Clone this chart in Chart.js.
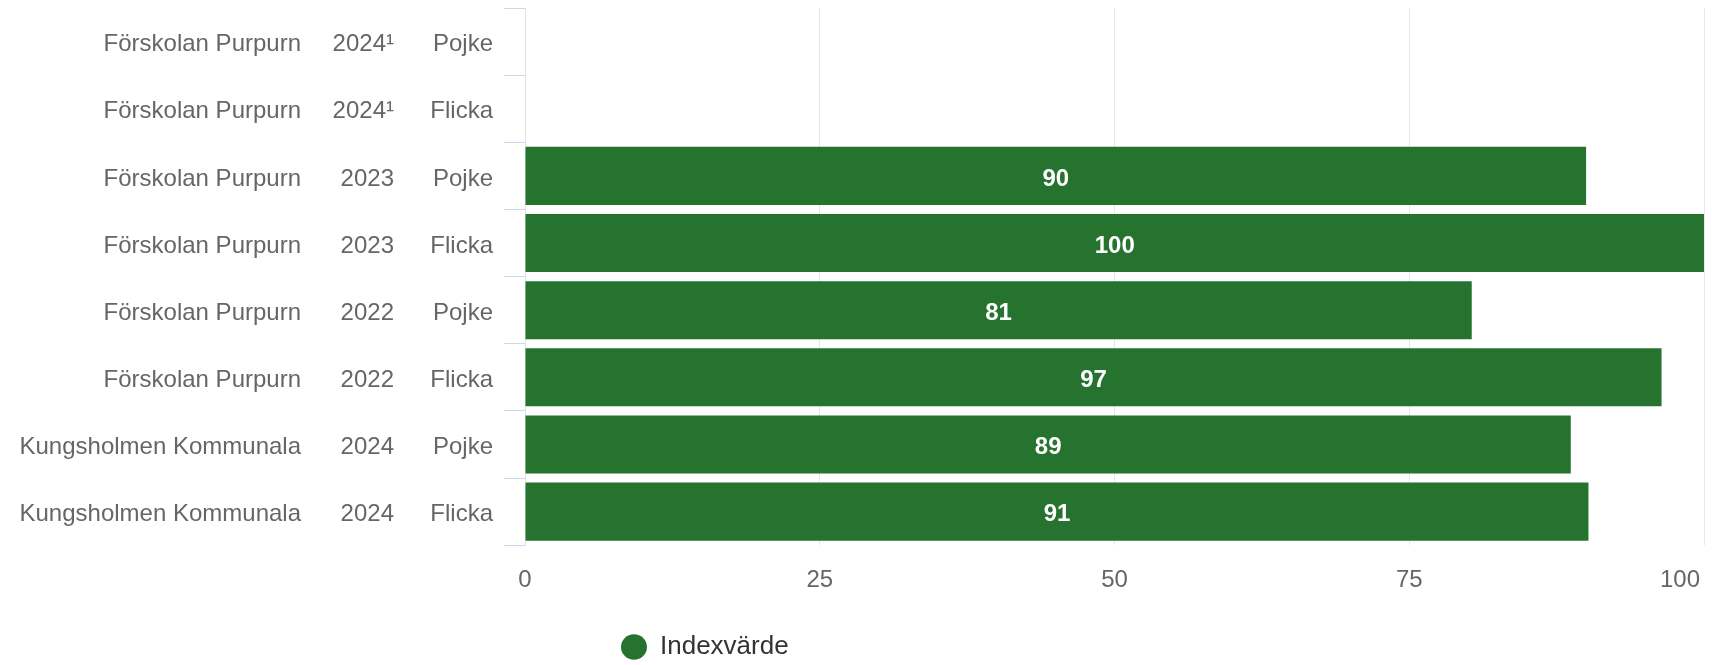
<!DOCTYPE html>
<html>
<head>
<meta charset="utf-8">
<script src="https://cdn.jsdelivr.net/npm/chart.js@4/dist/chart.umd.min.js"></script>
<style>
  html, body { margin: 0; padding: 0; background: #ffffff; }
  #wrap { position: relative; width: 1712px; height: 665px; }
</style>
</head>
<body>
<div id="wrap"><canvas id="c"></canvas></div>
<script>
// ---- data ----
const schoolLabels = ['Förskolan Purpurn', 'Förskolan Purpurn', 'Förskolan Purpurn', 'Förskolan Purpurn',
                      'Förskolan Purpurn', 'Förskolan Purpurn', 'Kungsholmen Kommunala', 'Kungsholmen Kommunala'];
const yearLabels = ['2024¹', '2024¹', '2023', '2023', '2022', '2022', '2024', '2024'];
const genderLabels = ['Pojke', 'Flicka', 'Pojke', 'Flicka', 'Pojke', 'Flicka', 'Pojke', 'Flicka'];
const indexValues = [null, null, 90, 100, 80.3, 96.4, 88.7, 90.2];
const valueLabels = [null, null, '90', '100', '81', '97', '89', '91'];
const seriesName = 'Indexvärde';
const xMin = 0, xMax = 100, xStep = 25;

const GREEN = '#267330';
const TICK_COLOR = '#666666';
const FONT = "'Liberation Sans', Arial, Helvetica, sans-serif";

Chart.defaults.font.family = FONT;

const valueLabelPlugin = {
  id: 'valueLabels',
  afterDatasetsDraw(chart) {
    const meta = chart.getDatasetMeta(0);
    const ctx = chart.ctx;
    ctx.save();
    ctx.font = 'bold 24px ' + FONT;
    ctx.fillStyle = '#ffffff';
    ctx.textAlign = 'center';
    ctx.textBaseline = 'middle';
    meta.data.forEach((el, i) => {
      if (indexValues[i] == null) return;
      ctx.fillText(valueLabels[i], (el.x + el.base) / 2, el.y + 3);
    });
    ctx.restore();
  }
};

const layoutTweaks = {
  id: 'layoutTweaks',
  afterLayout(chart) {
    if (chart.legend) {
      const w = chart.legend.right - chart.legend.left;
      chart.legend.left = 611;
      chart.legend.right = chart.legend.left + w;
    }
  },
  beforeDraw(chart) {
    // keep last x tick label inside the canvas (right aligned at plot edge)
    const xs = chart.scales.x;
    const items = xs.getLabelItems(chart.chartArea);
    if (items.length) {
      const last = items[items.length - 1];
      last.options.textAlign = 'right';
      last.options.translation[0] = chart.chartArea.right - 4;
    }
  }
};

function fixWidth(w) {
  return function (axis) {
    axis.width = w;
    axis.paddingTop = 0;
    axis.paddingBottom = 0;
  };
}

new Chart(document.getElementById('c'), {
  type: 'bar',
  data: {
    labels: genderLabels,
    datasets: [{
      label: seriesName,
      data: indexValues,
      backgroundColor: GREEN,
      borderColor: GREEN,
      borderWidth: 0,
      barPercentage: 0.865,
      categoryPercentage: 1.0,
      yAxisID: 'y'
    }]
  },
  options: {
    indexAxis: 'y',
    responsive: true,
    maintainAspectRatio: false,
    animation: false,
    devicePixelRatio: 1,
    layout: { padding: { top: 8, right: 8, left: 0, bottom: 0 } },
    plugins: {
      legend: {
        position: 'bottom',
        align: 'start',
        maxHeight: 41,
        labels: {
          usePointStyle: true,
          pointStyle: 'circle',
          pointStyleWidth: 26,
          boxWidth: 18,
          boxHeight: 18,
          padding: 10,
          color: '#333333',
          font: { size: 26 }
        }
      },
      tooltip: { enabled: false }
    },
    scales: {
      x: {
        type: 'linear',
        position: 'bottom',
        min: xMin,
        max: xMax,
        ticks: { stepSize: xStep, color: TICK_COLOR, font: { size: 24 }, padding: 21 },
        grid: { color: '#e6e6e6', lineWidth: 1, drawTicks: false },
        border: { display: false },
        afterFit(axis) { axis.paddingRight = 0; axis.height += 8; }
      },
      y: {
        type: 'category',
        position: 'left',
        weight: 0,
        offset: true,
        labels: genderLabels,
        ticks: { color: TICK_COLOR, font: { size: 24 }, padding: 11, autoSkip: false, labelOffset: 3 },
        grid: { display: true, drawOnChartArea: false, drawTicks: true, tickLength: 21, tickColor: '#ccd6eb', color: '#ccd6eb', offset: true },
        border: { display: true, color: '#e3e3e3' },
        afterFit: fixWidth(93)
      },
      yYear: {
        type: 'category',
        position: 'left',
        weight: 1,
        offset: true,
        labels: yearLabels,
        ticks: { color: TICK_COLOR, font: { size: 24 }, padding: 38, autoSkip: false, labelOffset: 3 },
        grid: { display: false, drawTicks: false },
        border: { display: false },
        afterFit: fixWidth(100)
      },
      yName: {
        type: 'category',
        position: 'left',
        weight: 2,
        offset: true,
        labels: schoolLabels,
        ticks: { color: TICK_COLOR, font: { size: 24 }, padding: 31, autoSkip: false, labelOffset: 3 },
        grid: { display: false, drawTicks: false },
        border: { display: false },
        afterFit: fixWidth(332)
      }
    }
  },
  plugins: [valueLabelPlugin, layoutTweaks]
});
</script>
</body>
</html>
